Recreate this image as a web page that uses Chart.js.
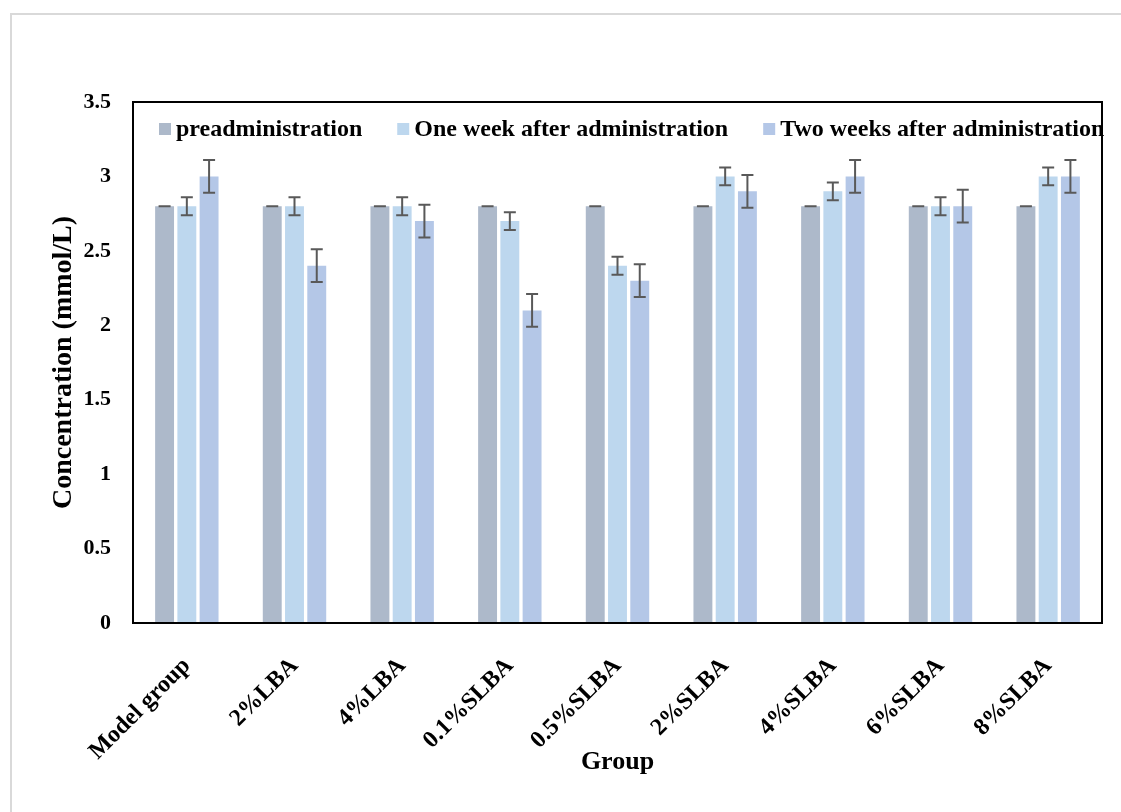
<!DOCTYPE html>
<html>
<head>
<meta charset="utf-8">
<title>Concentration by group</title>
<script src="https://cdn.jsdelivr.net/npm/chart.js@4/dist/chart.umd.min.js"></script>
<style>
  html, body { margin: 0; padding: 0; background: #ffffff; }
  #wrap { width: 1121px; height: 812px; position: relative; }
</style>
</head>
<body>
<div id="wrap"><canvas id="chart" width="1121" height="812"></canvas></div>
<script>
// Groups along the x axis
const groups = ['Model group', '2%LBA', '4%LBA', '0.1%SLBA', '0.5%SLBA', '2%SLBA', '4%SLBA', '6%SLBA', '8%SLBA'];

// Series labels
const seriesNames = ['preadministration', 'One week after administration', 'Two weeks after administration'];

// Mean concentrations (mmol/L)
const preValues     = [2.8, 2.8, 2.8, 2.8, 2.8, 2.8, 2.8, 2.8, 2.8];
const oneWeekValues = [2.8, 2.8, 2.8, 2.7, 2.4, 3.0, 2.9, 2.8, 3.0];
const twoWeekValues = [3.0, 2.4, 2.7, 2.1, 2.3, 2.9, 3.0, 2.8, 3.0];

// Error half-widths (mmol/L)
const preErrors     = [0, 0, 0, 0, 0, 0, 0, 0, 0];
const oneWeekErrors = [0.06, 0.06, 0.06, 0.06, 0.06, 0.06, 0.06, 0.06, 0.06];
const twoWeekErrors = [0.11, 0.11, 0.11, 0.11, 0.11, 0.11, 0.11, 0.11, 0.11];

// Y axis tick values and their labels
const yTicks = [0, 0.5, 1, 1.5, 2, 2.5, 3, 3.5];
const yTickLabels = ['0', '0.5', '1', '1.5', '2', '2.5', '3', '3.5'];

const seriesColors = ['#ADB9CA', '#BDD7EE', '#B4C7E7'];
const serif = '"Liberation Serif", "Times New Roman", serif';

// Light frame around the figure
const framePlugin = {
  id: 'frame',
  beforeDraw(chart) {
    const ctx = chart.ctx;
    ctx.save();
    ctx.fillStyle = '#ffffff';
    ctx.fillRect(0, 0, chart.width, chart.height);
    ctx.strokeStyle = '#d9d9d9';
    ctx.lineWidth = 2;
    ctx.beginPath();
    ctx.moveTo(11, chart.height);
    ctx.lineTo(11, 14);
    ctx.lineTo(chart.width, 14);
    ctx.stroke();
    ctx.restore();
  }
};

// Black box around the plot area
const plotBoxPlugin = {
  id: 'plotBox',
  afterDraw(chart) {
    const {left, top, right, bottom} = chart.chartArea;
    const ctx = chart.ctx;
    ctx.save();
    ctx.strokeStyle = '#000000';
    ctx.lineWidth = 2;
    ctx.strokeRect(left, top, right - left, bottom - top);
    ctx.restore();
  }
};

// Error bars with caps
const errorBarPlugin = {
  id: 'errorBars',
  afterDatasetsDraw(chart) {
    const ctx = chart.ctx;
    const y = chart.scales.y;
    ctx.save();
    ctx.strokeStyle = '#595959';
    ctx.lineWidth = 2;
    chart.data.datasets.forEach((ds, di) => {
      const meta = chart.getDatasetMeta(di);
      meta.data.forEach((bar, i) => {
        const v = ds.data[i];
        const e = ds.errors[i];
        const yTop = y.getPixelForValue(v + e);
        const yBot = y.getPixelForValue(v - e);
        const cap = 6;
        ctx.beginPath();
        ctx.moveTo(bar.x, yTop);
        ctx.lineTo(bar.x, yBot);
        ctx.moveTo(bar.x - cap, yTop);
        ctx.lineTo(bar.x + cap, yTop);
        ctx.moveTo(bar.x - cap, yBot);
        ctx.lineTo(bar.x + cap, yBot);
        ctx.stroke();
      });
    });
    ctx.restore();
  }
};

// Legend drawn in a row inside the plot area
const insideLegendPlugin = {
  id: 'insideLegend',
  afterDraw(chart) {
    const ctx = chart.ctx;
    const area = chart.chartArea;
    ctx.save();
    ctx.font = 'bold 24px ' + serif;
    ctx.textBaseline = 'middle';
    ctx.textAlign = 'left';
    let x = area.left + 26;
    const cy = area.top + 27;
    const box = 12;
    chart.data.datasets.forEach((ds) => {
      ctx.fillStyle = ds.backgroundColor;
      ctx.fillRect(x, cy - box / 2, box, box);
      x += box + 5;
      ctx.fillStyle = '#000000';
      ctx.fillText(ds.label, x, cy + 1);
      x += ctx.measureText(ds.label).width + 35;
    });
    ctx.restore();
  }
};

const datasets = [
  { label: seriesNames[0], data: preValues, errors: preErrors, backgroundColor: seriesColors[0] },
  { label: seriesNames[1], data: oneWeekValues, errors: oneWeekErrors, backgroundColor: seriesColors[1] },
  { label: seriesNames[2], data: twoWeekValues, errors: twoWeekErrors, backgroundColor: seriesColors[2] }
];

new Chart(document.getElementById('chart'), {
  type: 'bar',
  data: { labels: groups, datasets: datasets },
  options: {
    responsive: false,
    devicePixelRatio: 1,
    animation: false,
    categoryPercentage: 0.62,
    barPercentage: 0.85,
    layout: { padding: { top: 102, right: 19, left: 0, bottom: 0 } },
    plugins: {
      legend: { display: false },
      tooltip: { enabled: false }
    },
    scales: {
      x: {
        grid: { display: false, drawTicks: false },
        border: { display: false },
        ticks: {
          color: '#000000',
          font: { family: serif, size: 24, weight: 'bold' },
          maxRotation: 45,
          minRotation: 45,
          padding: 29,
          autoSkip: false
        },
        title: {
          display: true,
          text: 'Group',
          color: '#000000',
          font: { family: serif, size: 26, weight: 'bold' },
          padding: { top: 0, bottom: 34 }
        },
        afterFit(scale) { scale.height = 812 - 623; }
      },
      y: {
        min: 0,
        max: 3.5,
        afterBuildTicks(scale) { scale.ticks = yTicks.map(v => ({ value: v })); },
        grid: { display: false, drawTicks: false },
        border: { display: false },
        ticks: {
          color: '#000000',
          font: { family: serif, size: 22, weight: 'bold' },
          padding: 22,
          callback(value) {
            const i = yTicks.indexOf(value);
            return i >= 0 ? yTickLabels[i] : '';
          }
        },
        title: {
          display: true,
          text: 'Concentration (mmol/L)',
          color: '#000000',
          font: { family: serif, size: 28, weight: 'bold' },
          padding: { top: 47, bottom: 0 }
        },
        afterFit(scale) { scale.width = 133; }
      }
    }
  },
  plugins: [framePlugin, errorBarPlugin, plotBoxPlugin, insideLegendPlugin]
});
</script>
</body>
</html>
